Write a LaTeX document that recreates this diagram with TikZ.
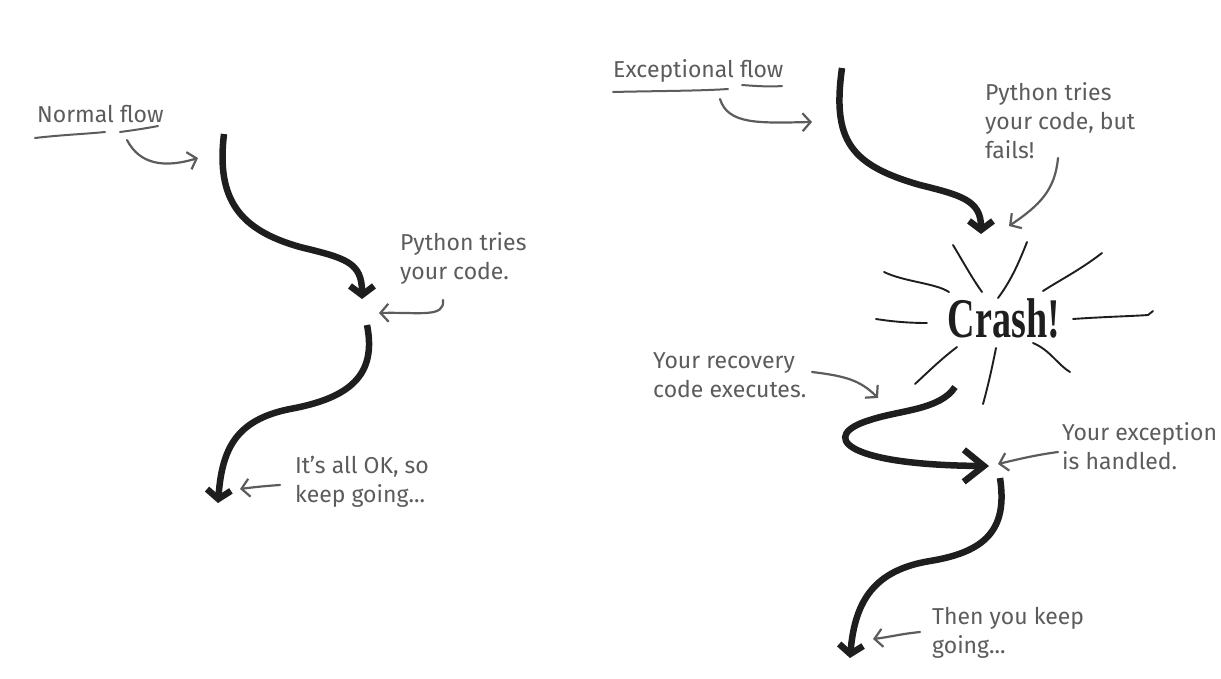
\documentclass[tikz,border=0pt]{standalone}
\usepackage{fontspec}
\usepackage{graphicx}
\usetikzlibrary{arrows.meta}
\newfontfamily\handfont{Fira Sans}
\newfontfamily\crashfont{Liberation Serif}
\definecolor{hand}{HTML}{5C5C5C}
\definecolor{ink}{HTML}{1E1E1E}
\begin{document}
\begin{tikzpicture}[x=1pt,y=-1pt,
  note/.style={font=\handfont\fontsize{23}{29}\selectfont, text=hand, align=left, anchor=north west, inner sep=0pt},
  flow/.style={line width=6.5pt, draw=ink, line cap=butt, -{Straight Barb[length=9pt,width=24pt]}},
  bigflow/.style={line width=6.5pt, draw=ink, line cap=butt, -{Straight Barb[length=20pt,width=32pt]}},
  pointer/.style={line width=2.2pt, draw=hand, line cap=round, -{Straight Barb[length=8pt,width=18pt]}},
  ray/.style={line width=1.9pt, draw=ink, line cap=round},
  uline/.style={line width=2pt, draw=hand, line cap=round}]
\fill[white] (0,0) rectangle (1221,678);
\useasboundingbox (0,0) rectangle (1221,678);

% ---------- texts ----------
\node[note] (normal) at (37,105) {Normal flow};
\node[note] (trylft) at (400,232) {Python tries\\your code.};
\node[note] (okay) at (295,456) {It’s all OK, so\\keep going...};
\node[note] (except) at (613,59) {Exceptional flow};
\node[note] (tryrgt) at (985,82) {Python tries\\your code, but\\fails!};
\node[note] (recov) at (653,352) {Your recovery\\code executes.};
\node[note] (handled) at (1062,422) {Your exception\\is handled.};
\node[note] (then) at (932,607) {Then you keep\\going...};
\node[anchor=base, inner sep=0pt, text=ink] (crash) at (1004,337)
  {\scalebox{0.68}[1]{\crashfont\fontsize{56}{56}\selectfont\bfseries Crash!}};

% ---------- underlines ----------
\draw[uline] (35,138) .. controls (60,135) and (85,134) .. (105,132);
\draw[uline] (120,132) .. controls (135,130) and (148,128) .. (158,126);
\draw[uline] (613,92) .. controls (650,91) and (700,91) .. (728,89);
\draw[uline] (742,85) .. controls (755,86) and (770,87) .. (782,86);

% ---------- coordinates ----------
\coordinate (l1s) at (224,134);
\coordinate (l1e) at (362,299);
\coordinate (l2s) at (367,325);
\coordinate (l2e) at (218,503);
\coordinate (r1s) at (842,68);
\coordinate (r1e) at (981,234);
\coordinate (r2s) at (955,387);
\coordinate (r2e) at (989,466);
\coordinate (r3s) at (1000,478);
\coordinate (r3e) at (850,658);

\coordinate (g1s) at (127,140);  \coordinate (g1e) at (198,158);
\coordinate (g2s) at (443,300);  \coordinate (g2e) at (379,313);
\coordinate (g3s) at (280,485);  \coordinate (g3e) at (240,489);
\coordinate (g4s) at (720,99);   \coordinate (g4e) at (812,122);
\coordinate (g5s) at (1058,158); \coordinate (g5e) at (1009,226);
\coordinate (g6s) at (812,372);  \coordinate (g6e) at (878,398);
\coordinate (g7s) at (1058,452); \coordinate (g7e) at (998,464);
\coordinate (g8s) at (920,632);  \coordinate (g8e) at (873,639);

% ---------- thick flows ----------
\draw[flow] (l1s) .. controls (216,200) and (240,230) .. (300,247)
                  .. controls (345,258) and (362,262) .. (l1e);
\draw[flow] (l2s) .. controls (377,375) and (350,398) .. (290,409)
                  .. controls (235,420) and (222,450) .. (l2e);
\draw[flow] (r1s) .. controls (832,140) and (850,165) .. (920,185)
                  .. controls (960,195) and (981,200) .. (r1e);
\draw[bigflow] (r2s) .. controls (940,410) and (900,410) .. (870,420)
                     .. controls (820,435) and (840,465) .. (r2e);
\draw[flow] (r3s) .. controls (1008,530) and (985,552) .. (930,561)
                  .. controls (875,570) and (855,600) .. (r3e);

% ---------- grey pointers ----------
\draw[pointer] (g1s) .. controls (140,165) and (165,168) .. (g1e);
\draw[pointer] (g2s) .. controls (445,318) and (420,312) .. (g2e);
\draw[pointer] (g3s) .. controls (265,486) and (255,487) .. (g3e);
\draw[pointer] (g4s) .. controls (728,125) and (760,123) .. (g4e);
\draw[pointer] (g5s) .. controls (1055,190) and (1040,205) .. (g5e);
\draw[pointer] (g6s) .. controls (845,376) and (860,380) .. (g6e);
\draw[pointer] (g7s) .. controls (1035,455) and (1015,460) .. (g7e);
\draw[pointer] (g8s) .. controls (900,634) and (890,637) .. (g8e);

% ---------- crash rays ----------
\draw[ray] (953,245) .. controls (965,265) and (972,278) .. (982,292);
\draw[ray] (1027,242) .. controls (1018,265) and (1010,282) .. (998,298);
\draw[ray] (1102,253) .. controls (1080,270) and (1060,280) .. (1043,291);
\draw[ray] (884,272) .. controls (905,282) and (935,283) .. (949,292);
\draw[ray] (876,319) .. controls (895,322) and (912,323) .. (927,323);
\draw[ray] (1073,319) .. controls (1100,317) and (1135,316) .. (1148,315) -- (1153,311);
\draw[ray] (957,347) .. controls (940,360) and (928,372) .. (915,384);
\draw[ray] (996,348) .. controls (992,368) and (988,386) .. (983,404);
\draw[ray] (1033,343) .. controls (1050,350) and (1058,365) .. (1070,372);
\end{tikzpicture}
\end{document}
